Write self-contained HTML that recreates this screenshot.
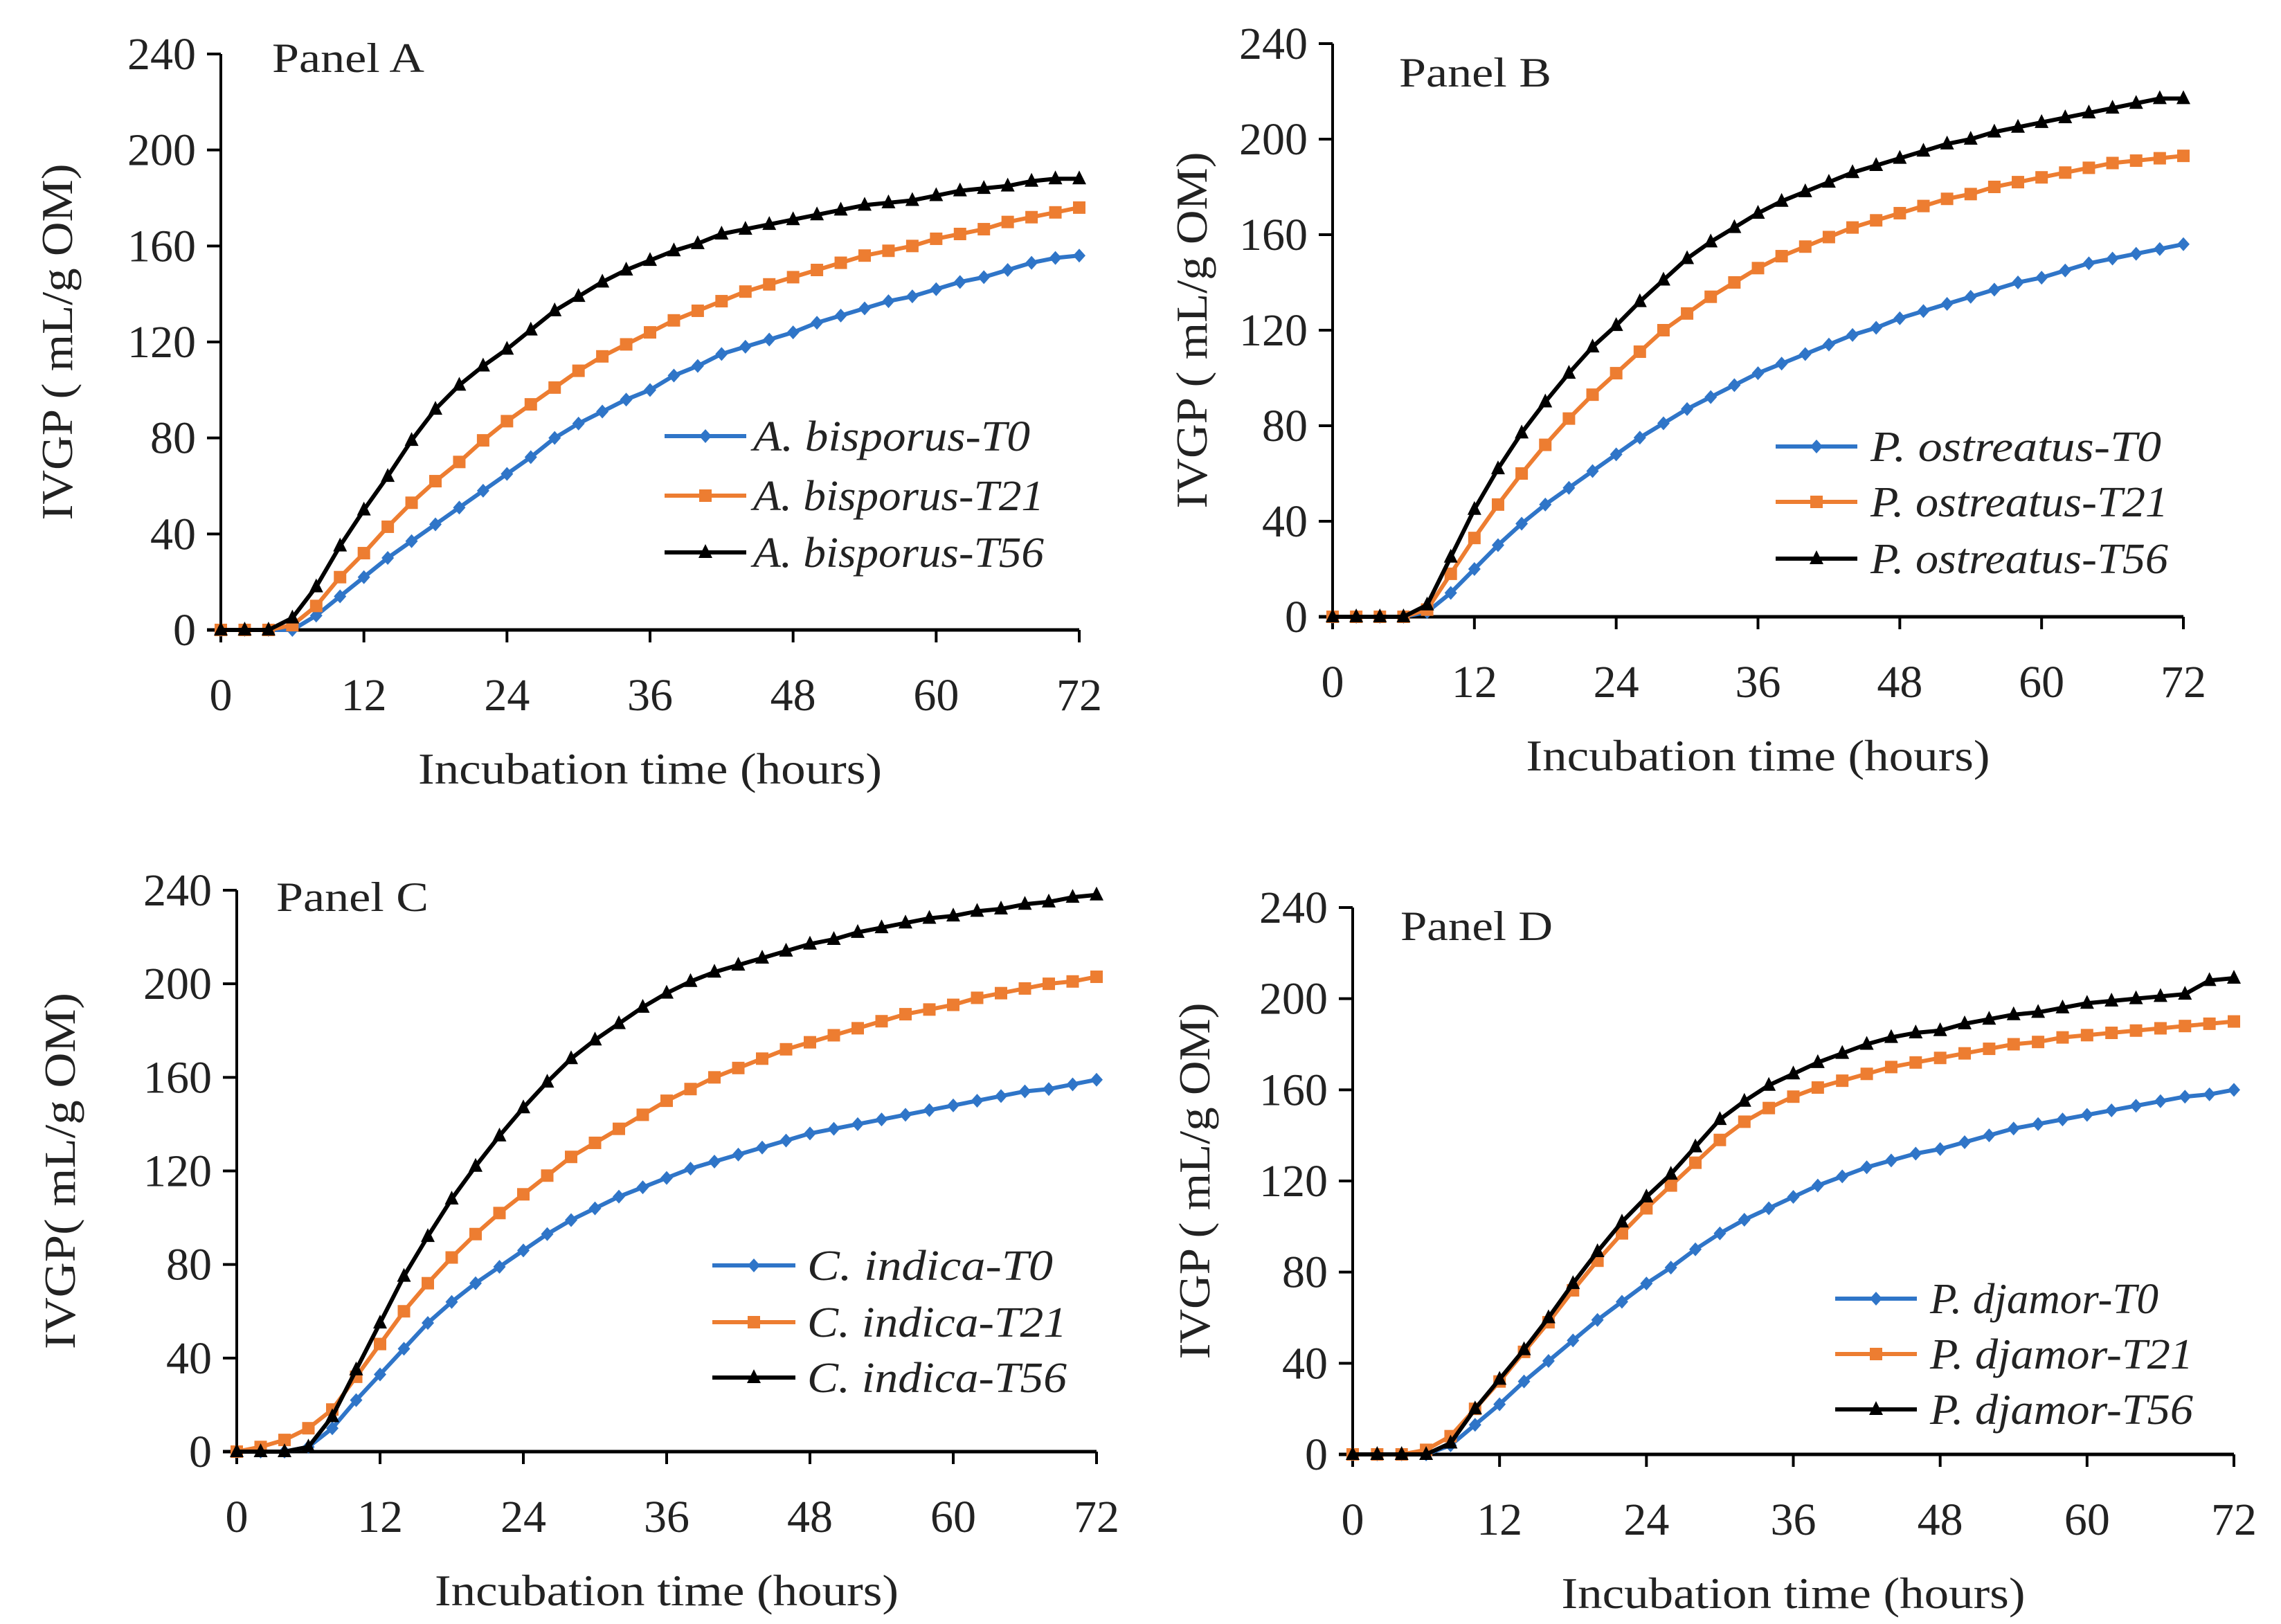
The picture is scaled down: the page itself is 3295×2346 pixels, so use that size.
<!DOCTYPE html>
<html><head><meta charset="utf-8"><style>
html,body{margin:0;padding:0;background:#fff;}
svg{display:block;}
text{font-family:"Liberation Serif",serif;fill:#222;}
</style></head><body>
<svg id="chart" width="3295" height="2346" viewBox="0 0 3295 2346" xmlns="http://www.w3.org/2000/svg"></svg>
<script>
const hours=[0,2,4,6,8,10,12,14,16,18,20,22,24,26,28,30,32,34,36,38,40,42,44,46,48,50,52,54,56,58,60,62,64,66,68,70,72];
const yTicks=[0,40,80,120,160,200,240];
const xTicks=[0,12,24,36,48,60,72];
const seriesLabels=["T0","T21","T56"];
const panelNames=["Panel A","Panel B","Panel C","Panel D"];
const speciesNames=["A. bisporus","P. ostreatus","C. indica","P. djamor"];
const aT0=[0,0,0,0,6,14,22,30,37,44,51,58,65,72,80,86,91,96,100,106,110,115,118,121,124,128,131,134,137,139,142,145,147,150,153,155,156];
const aT21=[0,0,0,2,10,22,32,43,53,62,70,79,87,94,101,108,114,119,124,129,133,137,141,144,147,150,153,156,158,160,163,165,167,170,172,174,176];
const aT56=[0,0,0,5,18,35,50,64,79,92,102,110,117,125,133,139,145,150,154,158,161,165,167,169,171,173,175,177,178,179,181,183,184,185,187,188,188];
const bT0=[0,0,0,0,2,10,20,30,39,47,54,61,68,75,81,87,92,97,102,106,110,114,118,121,125,128,131,134,137,140,142,145,148,150,152,154,156];
const bT21=[0,0,0,0,3,18,33,47,60,72,83,93,102,111,120,127,134,140,146,151,155,159,163,166,169,172,175,177,180,182,184,186,188,190,191,192,193];
const bT56=[0,0,0,0,5,25,45,62,77,90,102,113,122,132,141,150,157,163,169,174,178,182,186,189,192,195,198,200,203,205,207,209,211,213,215,217,217];
const cT0=[0,0,0,2,10,22,33,44,55,64,72,79,86,93,99,104,109,113,117,121,124,127,130,133,136,138,140,142,144,146,148,150,152,154,155,157,159];
const cT21=[0,2,5,10,18,32,46,60,72,83,93,102,110,118,126,132,138,144,150,155,160,164,168,172,175,178,181,184,187,189,191,194,196,198,200,201,203];
const cT56=[0,0,0,2,15,35,55,75,92,108,122,135,147,158,168,176,183,190,196,201,205,208,211,214,217,219,222,224,226,228,229,231,232,234,235,237,238];
const dT0=[0,0,0,0,4,13,22,32,41,50,59,67,75,82,90,97,103,108,113,118,122,126,129,132,134,137,140,143,145,147,149,151,153,155,157,158,160];
const dT21=[0,0,0,2,8,20,32,45,58,72,85,97,108,118,128,138,146,152,157,161,164,167,170,172,174,176,178,180,181,183,184,185,186,187,188,189,190];
const dT56=[0,0,0,0,5,20,33,46,60,75,89,102,113,123,135,147,155,162,167,172,176,180,183,185,186,189,191,193,194,196,198,199,200,201,202,208,209];

const NS="http://www.w3.org/2000/svg";
const svg=document.getElementById('chart');
const colors=["#2f75c8","#ed7d31","#000000"];
const layout=[
 {x0:319,x1:1559,y0:910,y1:78,yt:84,lab:[393,84],lg:[960,1078,1088,[630,716,798]],data:[aT0,aT21,aT56]},
 {x0:1925,x1:3154,y0:891,y1:63,yt:1723,lab:[2021,105],lg:[2565,2683,2702,[645,725,807]],data:[bT0,bT21,bT56]},
 {x0:342,x1:1584,y0:2097,y1:1286,yt:88,lab:[399,1296],lg:[1029,1149,1166,[1828,1910,1990]],data:[cT0,cT21,cT56]},
 {x0:1954,x1:3227,y0:2101,y1:1311,yt:1727,lab:[2023,1338],lg:[2651,2769,2788,[1876,1956,2036]],data:[dT0,dT21,dT56]}
];
const legendWidths=[[400,420,420],[420,430,430],[355,375,375],[330,380,380]];
function mk(tag,attrs,parent){const e=document.createElementNS(NS,tag);for(const k in attrs)e.setAttribute(k,attrs[k]);(parent||svg).appendChild(e);return e;}
function marker(g,k,x,y){
  let e;
  if(k===0){e=mk('polygon',{points:`${x},${y-10} ${x+9},${y} ${x},${y+10} ${x-9},${y}`,fill:colors[0]},g);}
  else if(k===1){e=mk('rect',{x:x-9,y:y-9,width:18,height:18,fill:colors[1]},g);}
  else {e=mk('polygon',{points:`${x},${y-12} ${x+10},${y+8} ${x-10},${y+8}`,fill:colors[2]},g);}
  
  
}
layout.forEach((p,pi)=>{
  const g=mk('g',{});
  
  
  const sx=v=>p.x0+(v-0)/(72-0)*(p.x1-p.x0);
  const sy=v=>p.y0-(v/240)*(p.y0-p.y1);
  const ya=mk('line',{x1:p.x0,y1:p.y1,x2:p.x0,y2:p.y0,stroke:'#000','stroke-width':4},g);
  
  const xa=mk('line',{x1:p.x0-20,y1:p.y0,x2:p.x1,y2:p.y0,stroke:'#000','stroke-width':5},g);
  
  yTicks.forEach(t=>{
    mk('line',{x1:p.x0-20,y1:sy(t),x2:p.x0,y2:sy(t),stroke:'#000','stroke-width':4},g);
    const tx=mk('text',{x:p.x0-36,y:sy(t)+22,'text-anchor':'end','font-size':66},g);
    tx.textContent=t;
    
  });
  xTicks.forEach(t=>{
    mk('line',{x1:sx(t),y1:p.y0,x2:sx(t),y2:p.y0+18,stroke:'#000','stroke-width':4},g);
    const tx=mk('text',{x:sx(t),y:p.y0+116,'text-anchor':'middle','font-size':66},g);
    tx.textContent=t;
    
  });
  const xt=mk('text',{x:(p.x0+p.x1)/2,y:p.y0+222,'text-anchor':'middle','font-size':64,textLength:670,lengthAdjust:'spacingAndGlyphs'},g);
  xt.textContent='Incubation time (hours)';
  
  const ymid=(p.y0+p.y1)/2;
  const yt=mk('text',{x:p.yt,y:ymid,'text-anchor':'middle','font-size':64,transform:`rotate(-90 ${p.yt} ${ymid})`,dy:20,textLength:515,lengthAdjust:'spacingAndGlyphs'},g);
  yt.textContent=pi===2?'IVGP( mL/g OM)':'IVGP ( mL/g OM)';
  
  const pl=mk('text',{x:p.lab[0],y:p.lab[1]+20,'font-size':60,textLength:220,lengthAdjust:'spacingAndGlyphs'},g);
  pl.textContent=panelNames[pi];
  
  p.data.forEach((vals,k)=>{
    const sg=mk('g',{},g);
    
    
    const pts=hours.map((h,i)=>sx(h)+','+sy(vals[i])).join(' ');
    mk('polyline',{points:pts,fill:'none',stroke:colors[k],'stroke-width':6,'stroke-linejoin':'round'},sg);
    hours.forEach((h,i)=>marker(sg,k,sx(h),sy(vals[i])));
    const ly=p.lg[3][k];
    const lg=mk('g',{},g);
    
    
    mk('line',{x1:p.lg[0],y1:ly,x2:p.lg[1],y2:ly,stroke:colors[k],'stroke-width':6},lg);
    marker(lg,k,(p.lg[0]+p.lg[1])/2,ly);
    const lt=mk('text',{x:p.lg[2],y:ly+21,'font-size':62,'font-style':'italic',textLength:legendWidths[pi][k],lengthAdjust:'spacingAndGlyphs'},lg);
    lt.textContent=speciesNames[pi]+'-'+seriesLabels[k];
  });
});
</script>
</body></html>
